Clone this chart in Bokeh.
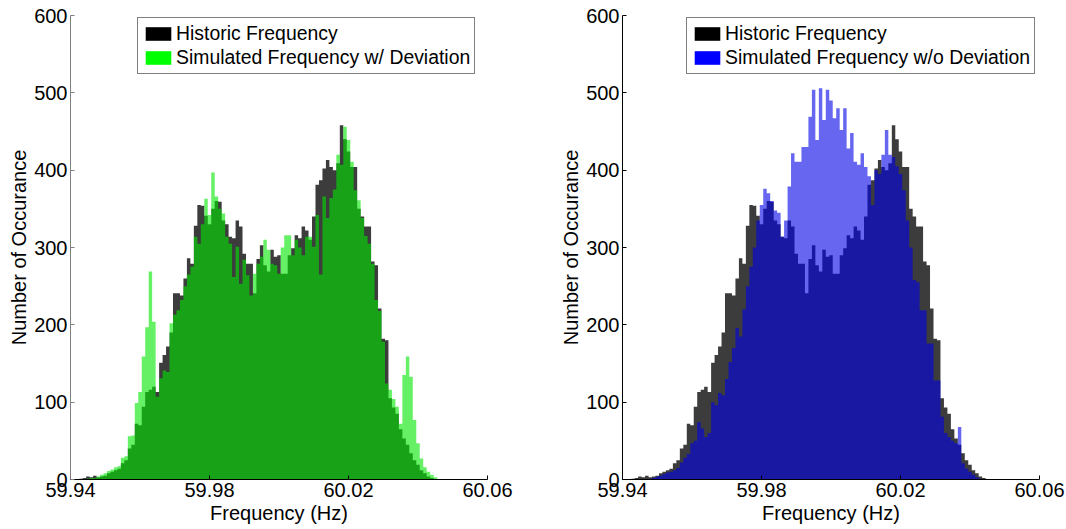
import numpy as np
from bokeh.plotting import figure
from bokeh.layouts import row
from bokeh.models import (Range1d, FixedTicker, PrintfTickFormatter, Legend,
                          LegendItem, ColumnDataSource)
from bokeh.embed import file_html
from bokeh.resources import INLINE

# Histogram bins: 1 mHz wide, first bin centred at 59.942 Hz
FIRST_BIN = 59.942
BIN_WIDTH = 0.001

historic = [
    0, 1, 2, 4, 3, 5, 3, 4, 5, 8,
    10, 12, 14, 21, 25, 40, 45, 72, 70, 94,
    113, 116, 120, 113, 151, 161, 172, 190, 241, 241,
    238, 260, 286, 279, 328, 355, 354, 341, 330, 350,
    360, 359, 335, 330, 314, 312, 335, 327, 292, 279,
    279, 241, 285, 303, 277, 269, 297, 288, 290, 266,
    266, 290, 299, 316, 312, 327, 322, 310, 340, 381,
    387, 402, 413, 404, 400, 409, 458, 440, 424, 404,
    404, 350, 340, 327, 327, 282, 277, 221, 182, 180,
    105, 93, 85, 65, 53, 45, 34, 25, 19, 12,
    8, 4, 2, 0, 0,
]

sim_with_deviation = [
    0, 0, 0, 1, 2, 2, 4, 6, 8, 11,
    13, 16, 17, 28, 30, 56, 57, 99, 113, 159,
    197, 269, 204, 107, 131, 141, 139, 202, 213, 219,
    232, 250, 265, 275, 314, 305, 330, 363, 342, 397,
    366, 350, 344, 314, 305, 262, 301, 253, 284, 264,
    238, 266, 279, 288, 310, 297, 279, 277, 266, 300,
    316, 316, 290, 310, 300, 290, 314, 314, 301, 342,
    265, 366, 338, 364, 375, 420, 407, 456, 439, 411,
    374, 361, 338, 315, 305, 279, 232, 218, 178, 124,
    116, 104, 94, 72, 135, 159, 133, 77, 47, 27,
    16, 10, 6, 3, 0,
]

sim_without_deviation = [
    0, 0, 0, 0, 0, 0, 1, 2, 4, 5,
    7, 9, 10, 12, 15, 22, 28, 33, 47, 50,
    74, 66, 55, 60, 100, 96, 112, 109, 130, 152,
    170, 196, 185, 220, 250, 275, 300, 335, 355, 376,
    370, 360, 348, 345, 314, 335, 379, 422, 411, 411,
    430, 430, 469, 504, 439, 506, 465, 504, 490, 467,
    480, 452, 480, 428, 448, 411, 407, 422, 404, 392,
    355, 400, 395, 420, 452, 420, 417, 405, 395, 374,
    335, 300, 258, 255, 219, 219, 176, 176, 128, 128,
    81, 60, 55, 50, 47, 68, 21, 14, 10, 6,
    3, 1, 0, 0, 0,
]

x_ticks = [59.94, 59.98, 60.02, 60.06]
y_ticks = [0, 100, 200, 300, 400, 500, 600]

labels_left = ["Historic Frequency", "Simulated Frequency w/ Deviation"]
labels_right = ["Historic Frequency", "Simulated Frequency w/o Deviation"]

HIST_COLOR = "#3c3c3c"
FONT = "Liberation Sans"

centers = np.round(FIRST_BIN + BIN_WIDTH * np.arange(len(historic)), 4)


def panel(sim, sim_color, swatch_color, labels, border_right, yaxis_color,
          legend_x):
    p = figure(frame_width=417, frame_height=464,
               min_border_left=70, min_border_right=border_right,
               min_border_top=15, min_border_bottom=50,
               x_range=Range1d(59.94, 60.06), y_range=Range1d(0, 600),
               output_backend="svg", toolbar_location=None)
    src = ColumnDataSource(dict(x=centers, zero=np.zeros(len(centers)),
                                hist=historic, sim=sim))
    p.varea_step(x="x", y1="zero", y2="hist", step_mode="center",
                 source=src, fill_color=HIST_COLOR, fill_alpha=1.0)
    p.varea_step(x="x", y1="zero", y2="sim", step_mode="center",
                 source=src, fill_color=sim_color, fill_alpha=0.6)

    # legend swatches: full-colour patches placed outside the visible x range
    swatch = ColumnDataSource(dict(l=[59.0], r=[59.001], b=[0], t=[1]))
    r_h = p.quad(left="l", right="r", bottom="b", top="t", source=swatch,
                 fill_color="black", line_color=None)
    r_s = p.quad(left="l", right="r", bottom="b", top="t", source=swatch,
                 fill_color=swatch_color, line_color=None)
    legend = Legend(items=[LegendItem(label=labels[0], renderers=[r_h]),
                           LegendItem(label=labels[1], renderers=[r_s])],
                    location=(legend_x, 405), margin=0, padding=4, spacing=1,
                    glyph_width=32, glyph_height=17, label_height=17,
                    label_standoff=2,
                    label_text_font=FONT, label_text_font_size="19.4px",
                    label_text_color="black",
                    border_line_color="black", border_line_width=1,
                    background_fill_color="white", background_fill_alpha=1.0)
    p.add_layout(legend)

    p.xaxis.ticker = FixedTicker(ticks=x_ticks)
    p.xaxis.formatter = PrintfTickFormatter(format="%.2f")
    p.yaxis.ticker = FixedTicker(ticks=y_ticks)
    p.xaxis.axis_label = "Frequency (Hz)"
    p.yaxis.axis_label = "Number of Occurance"
    for ax in (p.xaxis[0], p.yaxis[0]):
        ax.major_tick_in = 4
        ax.major_tick_out = 0
        ax.minor_tick_line_color = None
        ax.major_label_text_font = FONT
        ax.major_label_text_font_size = "20px"
        ax.major_label_text_color = "black"
        ax.axis_label_text_font = FONT
        ax.axis_label_text_font_size = "20px"
        ax.axis_label_text_font_style = "normal"
        ax.axis_label_text_color = "black"
        ax.major_label_standoff = 3
        ax.axis_line_color = "black"
        ax.major_tick_line_color = "black"
    p.yaxis[0].axis_line_color = yaxis_color
    p.yaxis[0].major_tick_line_color = yaxis_color
    p.xaxis.axis_label_standoff = 2
    p.yaxis.axis_label_standoff = 1
    p.grid.visible = False
    p.outline_line_color = None
    p.background_fill_color = "white"
    p.border_fill_color = "white"
    return p


left = panel(sim_with_deviation, "#00e600", "#00ff00", labels_left, 65,
             "#808080", 67)
right = panel(sim_without_deviation, "#0000e6", "#0000ff", labels_right, 27,
              "black", 64)

layout = row(left, right, spacing=0)
open("out.html", "w").write(file_html(layout, INLINE))
